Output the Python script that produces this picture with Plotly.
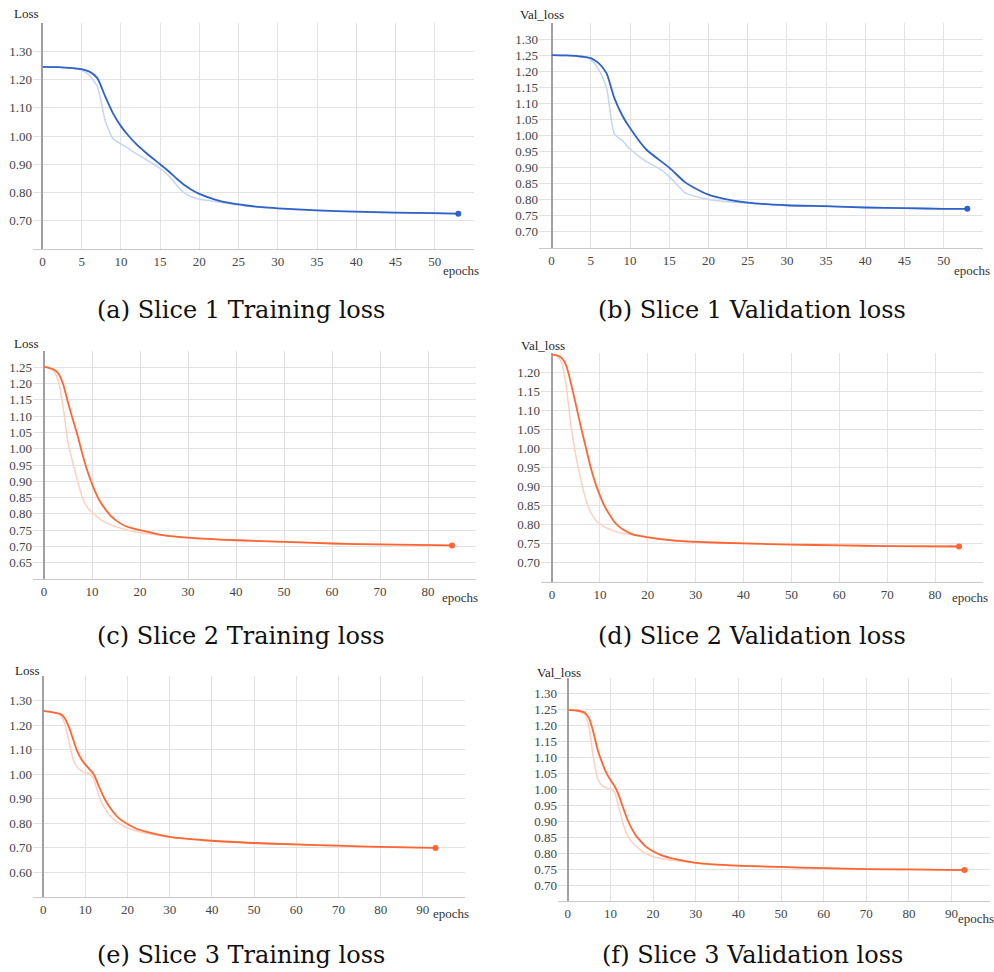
import plotly.graph_objects as go

# ---------------- data ----------------
# (a) Slice 1 Training loss
a_sm_x = [0, 2, 4, 5, 6, 7, 8, 9, 10, 11, 12, 13, 14, 15, 16, 17, 18, 19, 20, 22, 24, 26, 28, 30, 35, 40, 45, 50, 53]
a_sm_y = [1.245, 1.244, 1.240, 1.237, 1.228, 1.205, 1.140, 1.080, 1.035, 1.000, 0.970, 0.945, 0.922, 0.900, 0.877,
          0.852, 0.828, 0.810, 0.795, 0.775, 0.762, 0.754, 0.748, 0.744, 0.737, 0.732, 0.729, 0.727, 0.725]
a_raw_x = [0, 2, 4, 5, 6, 7, 7.5, 8, 9, 10, 11, 12, 13, 14, 15, 16, 17, 18, 19, 20, 22, 24, 26, 28, 30, 35, 40, 45, 50, 53]
a_raw_y = [1.245, 1.244, 1.238, 1.233, 1.215, 1.175, 1.120, 1.055, 0.990, 0.972, 0.955, 0.937, 0.920, 0.903, 0.885,
           0.862, 0.830, 0.800, 0.785, 0.776, 0.768, 0.759, 0.752, 0.747, 0.743, 0.736, 0.731, 0.728, 0.726, 0.724]

# (b) Slice 1 Validation loss
b_sm_x = [0, 2, 4, 5, 6, 7, 8, 9, 10, 12, 15, 17, 18, 20, 22, 25, 30, 35, 40, 45, 50, 53]
b_sm_y = [1.250, 1.249, 1.245, 1.241, 1.225, 1.194, 1.117, 1.063, 1.023, 0.958, 0.900, 0.855, 0.840, 0.816,
          0.803, 0.791, 0.783, 0.780, 0.776, 0.774, 0.772, 0.772]
b_raw_x = [0, 2, 4, 5, 6, 7, 8, 9, 10, 12, 14, 15, 16, 17, 18, 20, 25, 30, 35, 40, 45, 50, 53]
b_raw_y = [1.250, 1.248, 1.243, 1.235, 1.206, 1.150, 1.005, 0.985, 0.958, 0.920, 0.893, 0.872, 0.847, 0.822,
           0.813, 0.801, 0.789, 0.782, 0.779, 0.776, 0.774, 0.772, 0.772]

# (c) Slice 2 Training loss
c_sm_x = [0, 1, 2, 3, 4, 5, 6, 7, 8, 9, 10, 11, 12, 13, 14, 15, 17, 20, 25, 30, 40, 50, 60, 70, 85]
c_sm_y = [1.251, 1.248, 1.243, 1.231, 1.197, 1.141, 1.090, 1.040, 0.983, 0.933, 0.892, 0.857, 0.830, 0.810,
          0.792, 0.780, 0.762, 0.750, 0.734, 0.727, 0.719, 0.714, 0.709, 0.706, 0.703]
c_raw_x = [0, 1, 2, 3, 4, 5, 6, 7, 8, 9, 10, 12, 15, 20, 25, 30, 40, 50, 60, 70, 85]
c_raw_y = [1.251, 1.248, 1.238, 1.207, 1.125, 1.018, 0.957, 0.900, 0.850, 0.820, 0.805, 0.780, 0.760, 0.742,
           0.734, 0.727, 0.719, 0.714, 0.709, 0.706, 0.703]

# (d) Slice 2 Validation loss
d_sm_x = [0, 1, 2, 3, 4, 5, 6, 7, 8, 9, 10, 11, 12, 13, 14, 15, 17, 20, 25, 30, 40, 50, 60, 70, 85]
d_sm_y = [1.245, 1.244, 1.237, 1.216, 1.168, 1.114, 1.058, 1.006, 0.954, 0.911, 0.877, 0.848, 0.827, 0.808,
          0.795, 0.786, 0.774, 0.767, 0.759, 0.755, 0.751, 0.748, 0.746, 0.744, 0.743]
d_raw_x = [0, 1, 2, 3, 4, 5, 6, 7, 8, 9, 10, 12, 15, 20, 25, 30, 40, 50, 60, 70, 85]
d_raw_y = [1.245, 1.243, 1.225, 1.160, 1.055, 0.980, 0.920, 0.869, 0.835, 0.814, 0.802, 0.788, 0.777, 0.768,
           0.761, 0.756, 0.751, 0.748, 0.746, 0.744, 0.743]

# (e) Slice 3 Training loss
e_sm_x = [0, 2, 4, 5, 6, 7, 8, 9, 10, 11, 12, 13, 14, 15, 16, 17, 18, 20, 22, 25, 30, 40, 50, 60, 70, 80, 93]
e_sm_y = [1.258, 1.253, 1.246, 1.231, 1.197, 1.148, 1.097, 1.063, 1.039, 1.020, 1.000, 0.960, 0.920, 0.887,
          0.860, 0.838, 0.820, 0.797, 0.779, 0.763, 0.745, 0.729, 0.720, 0.714, 0.709, 0.704, 0.700]
e_raw_x = [0, 2, 4, 5, 6, 7, 8, 9, 10, 11, 12, 13, 14, 15, 16, 18, 20, 25, 30, 40, 50, 60, 70, 80, 93]
e_raw_y = [1.258, 1.252, 1.243, 1.212, 1.143, 1.068, 1.030, 1.015, 1.006, 1.003, 0.980, 0.924, 0.880, 0.851,
           0.828, 0.800, 0.781, 0.757, 0.743, 0.728, 0.719, 0.713, 0.708, 0.703, 0.700]

# (f) Slice 3 Validation loss
f_sm_x = [0, 2, 4, 5, 6, 7, 8, 9, 10, 11, 12, 13, 14, 15, 16, 17, 18, 20, 22, 25, 30, 40, 50, 60, 70, 80, 93]
f_sm_y = [1.250, 1.248, 1.241, 1.223, 1.180, 1.125, 1.086, 1.053, 1.030, 1.010, 0.980, 0.942, 0.905, 0.877,
          0.855, 0.839, 0.824, 0.806, 0.793, 0.782, 0.770, 0.761, 0.757, 0.753, 0.750, 0.749, 0.747]
f_raw_x = [0, 2, 4, 5, 6, 7, 8, 9, 10, 11, 12, 13, 14, 15, 16, 18, 20, 25, 30, 40, 50, 60, 70, 80, 93]
f_raw_y = [1.250, 1.247, 1.235, 1.193, 1.100, 1.034, 1.013, 1.005, 1.002, 0.991, 0.942, 0.892, 0.855, 0.836,
           0.822, 0.801, 0.789, 0.777, 0.769, 0.760, 0.756, 0.752, 0.750, 0.749, 0.747]

captions = ["(a) Slice 1 Training loss", "(b) Slice 1 Validation loss",
            "(c) Slice 2 Training loss", "(d) Slice 2 Validation loss",
            "(e) Slice 3 Training loss", "(f) Slice 3 Validation loss"]
y_titles = ["Loss", "Val_loss", "Loss", "Val_loss", "Loss", "Val_loss"]

# y tick values per panel (first and last are unlabeled border grid lines)
a_yticks = [0.60, 0.70, 0.80, 0.90, 1.00, 1.10, 1.20, 1.30, 1.40]
b_yticks = [0.65, 0.70, 0.75, 0.80, 0.85, 0.90, 0.95, 1.00, 1.05, 1.10, 1.15, 1.20, 1.25, 1.30, 1.35]
c_yticks = [0.60, 0.65, 0.70, 0.75, 0.80, 0.85, 0.90, 0.95, 1.00, 1.05, 1.10, 1.15, 1.20, 1.25, 1.30]
d_yticks = [0.65, 0.70, 0.75, 0.80, 0.85, 0.90, 0.95, 1.00, 1.05, 1.10, 1.15, 1.20, 1.25]
e_yticks = [0.50, 0.60, 0.70, 0.80, 0.90, 1.00, 1.10, 1.20, 1.30, 1.40]
f_yticks = [0.65, 0.70, 0.75, 0.80, 0.85, 0.90, 0.95, 1.00, 1.05, 1.10, 1.15, 1.20, 1.25, 1.30, 1.35]

# x tick values per panel (last is unlabeled border grid line)
ab_xticks = [0, 5, 10, 15, 20, 25, 30, 35, 40, 45, 50, 55]
cd_xticks = [0, 10, 20, 30, 40, 50, 60, 70, 80, 90]
e_xticks = [0, 10, 20, 30, 40, 50, 60, 70, 80, 90, 100]
f_xticks = [0, 10, 20, 30, 40, 50, 60, 70, 80, 90, 99]

# ---------------- styling / layout ----------------
BLUE, BLUE_L = "#2f62c8", "#c6d4ef"
ORNG, ORNG_L = "#ff6633", "#ffcfbf"
W, H = 994, 972

panels = [
    dict(sm=(a_sm_x, a_sm_y), raw=(a_raw_x, a_raw_y), c=(BLUE, BLUE_L), yt=a_yticks, xt=ab_xticks,
         xr=[-1.2, 55], box=(33, 474, 23, 249), ytl=(12, 14), ep=(461, 270), cap=(241, 310)),
    dict(sm=(b_sm_x, b_sm_y), raw=(b_raw_x, b_raw_y), c=(BLUE, BLUE_L), yt=b_yticks, xt=ab_xticks,
         xr=[-1.6, 55], box=(539, 983, 23, 248), ytl=(518, 15), ep=(972, 270), cap=(752, 310)),
    dict(sm=(c_sm_x, c_sm_y), raw=(c_raw_x, c_raw_y), c=(ORNG, ORNG_L), yt=c_yticks, xt=cd_xticks,
         xr=[-2.3, 90], box=(33, 476, 351, 579), ytl=(12, 343), ep=(460, 597), cap=(241, 636)),
    dict(sm=(d_sm_x, d_sm_y), raw=(d_raw_x, d_raw_y), c=(ORNG, ORNG_L), yt=d_yticks, xt=cd_xticks,
         xr=[-2.3, 90], box=(541, 983, 353, 582), ytl=(519, 345), ep=(970, 597), cap=(752, 636)),
    dict(sm=(e_sm_x, e_sm_y), raw=(e_raw_x, e_raw_y), c=(ORNG, ORNG_L), yt=e_yticks, xt=e_xticks,
         xr=[-2.4, 100], box=(33, 465, 676, 897), ytl=(13, 670), ep=(451, 913), cap=(241, 955)),
    dict(sm=(f_sm_x, f_sm_y), raw=(f_raw_x, f_raw_y), c=(ORNG, ORNG_L), yt=f_yticks, xt=f_xticks,
         xr=[-2.3, 99], box=(558, 990, 678, 901), ytl=(535, 672), ep=(976, 918), cap=(752, 955)),
]

fig = go.Figure()
TICKFONT = dict(family="Liberation Serif", size=13, color="#444")
CAPFONT = dict(family="DejaVu Serif", size=24, color="#111")

annotations = []
for i, p in enumerate(panels):
    n = "" if i == 0 else str(i + 1)
    xa, ya = "x" + n, "y" + n
    dark, light = p["c"]
    fig.add_trace(go.Scatter(x=p["raw"][0], y=p["raw"][1], mode="lines", xaxis=xa, yaxis=ya,
                             line=dict(color=light, width=1.5, shape="spline", smoothing=0.6),
                             showlegend=False, hoverinfo="skip"))
    fig.add_trace(go.Scatter(x=p["sm"][0], y=p["sm"][1], mode="lines", xaxis=xa, yaxis=ya,
                             line=dict(color=dark, width=1.8, shape="spline", smoothing=0.6),
                             showlegend=False))
    fig.add_trace(go.Scatter(x=[p["sm"][0][-1]], y=[p["sm"][1][-1]], mode="markers", xaxis=xa, yaxis=ya,
                             marker=dict(color=dark, size=6), showlegend=False))
    x0, x1, y0, y1 = p["box"]
    yt = p["yt"]
    ytext = [""] + ["%.2f" % v for v in yt[1:-1]] + [""]
    xt = p["xt"]
    xtext = [str(v) for v in xt[:-1]] + [""]
    fig.layout["xaxis" + n] = dict(
        domain=[x0 / W, x1 / W], range=p["xr"], anchor=ya,
        tickvals=xt, ticktext=xtext, showgrid=True, gridcolor="#e2e2e2", gridwidth=1.3,
        zeroline=True, zerolinecolor="#a0a0a0", zerolinewidth=1.5,
        showline=True, linecolor="#c8c8c8", linewidth=1.3, ticks="", tickfont=TICKFONT)
    fig.layout["yaxis" + n] = dict(
        domain=[1 - y1 / H, 1 - y0 / H], range=[yt[0], yt[-1]], anchor=xa,
        tickvals=yt, ticktext=ytext, showgrid=True, gridcolor="#e2e2e2", gridwidth=1.3,
        zeroline=False, showline=False, ticks="", tickfont=TICKFONT)
    annotations.append(dict(text=y_titles[i], x=p["ytl"][0] / W, y=1 - p["ytl"][1] / H, xref="paper", yref="paper",
                            xanchor="left", yanchor="middle", showarrow=False,
                            font=dict(family="Liberation Serif", size=13, color="#222")))
    annotations.append(dict(text="epochs", x=p["ep"][0] / W, y=1 - p["ep"][1] / H, xref="paper", yref="paper",
                            xanchor="center", yanchor="middle", showarrow=False,
                            font=dict(family="Liberation Serif", size=13, color="#333")))
    annotations.append(dict(text=captions[i], x=p["cap"][0] / W, y=1 - p["cap"][1] / H, xref="paper", yref="paper",
                            xanchor="center", yanchor="middle", showarrow=False, font=CAPFONT))

fig.update_layout(width=W, height=H, margin=dict(l=0, r=0, t=0, b=0),
                  paper_bgcolor="white", plot_bgcolor="white", annotations=annotations)
fig.write_html("out.html", config={"displayModeBar": False},
               post_script="document.body.style.margin='0';document.body.style.overflow='hidden';")
